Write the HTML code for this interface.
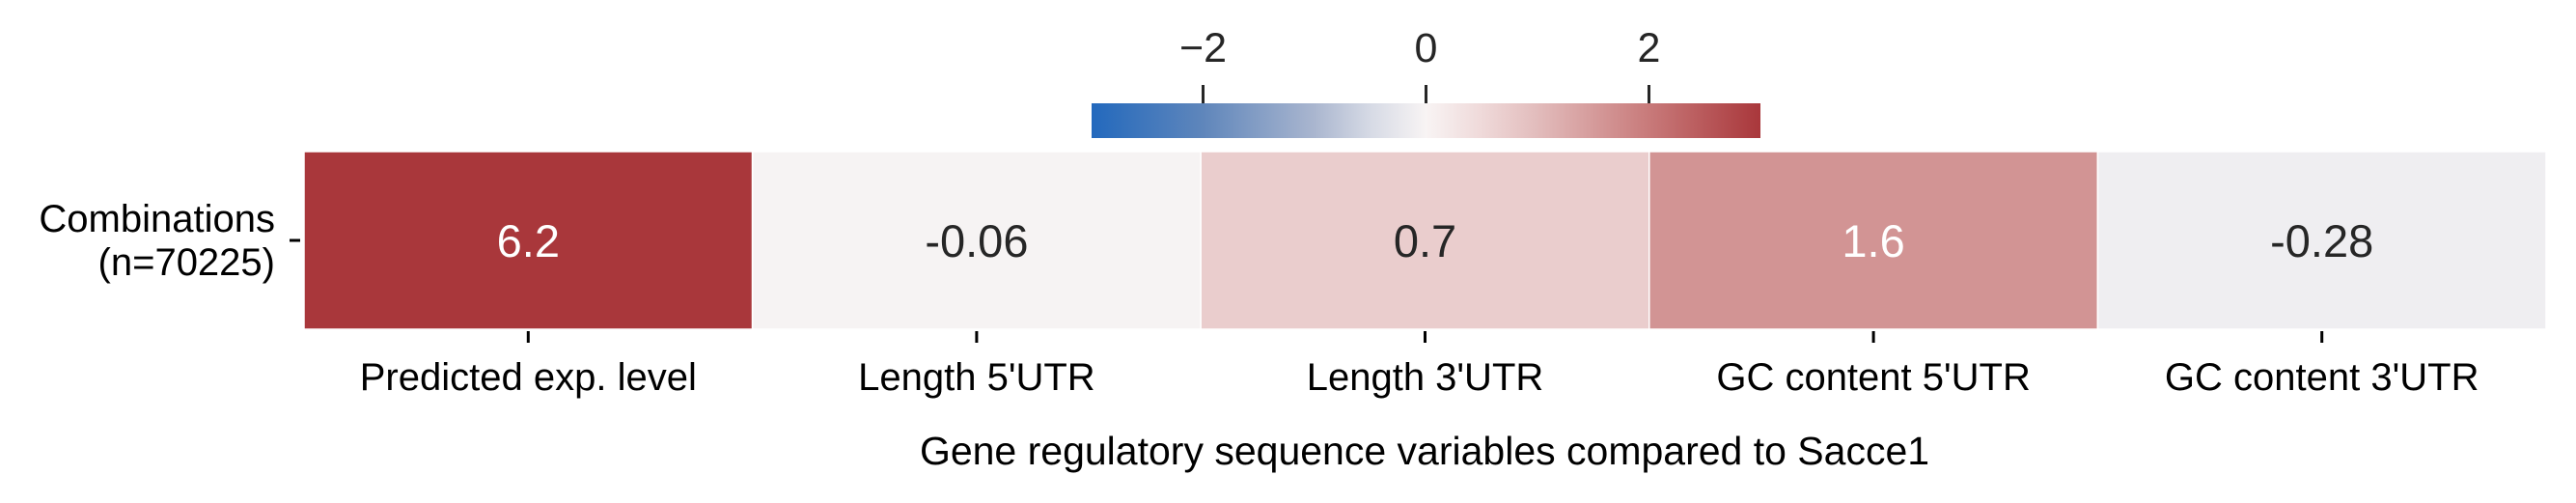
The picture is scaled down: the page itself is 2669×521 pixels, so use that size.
<!DOCTYPE html>
<html><head><meta charset="utf-8"><style>
html,body{margin:0;padding:0;background:#fff;}
svg{display:block;font-family:"Liberation Sans",Arial,sans-serif;}
</style></head><body>
<svg id="chart" width="2669" height="521" viewBox="0 0 2669 521" xmlns="http://www.w3.org/2000/svg">
<defs>
<linearGradient id="cbar" x1="0" x2="1" y1="0" y2="0">
<stop offset="0" stop-color="#2369bd"/>
<stop offset="0.1667" stop-color="#5f86bb"/>
<stop offset="0.3333" stop-color="#aab6cf"/>
<stop offset="0.4167" stop-color="#d6dae5"/>
<stop offset="0.5" stop-color="#f8f4f4"/>
<stop offset="0.5833" stop-color="#efd9d9"/>
<stop offset="0.6667" stop-color="#e2bcbc"/>
<stop offset="0.8333" stop-color="#c87a7a"/>
<stop offset="1" stop-color="#a9373b"/>
</linearGradient>
</defs>
<g id="cells"></g>
<g id="xaxis"></g>
<text x="1476" y="481" font-size="41" text-anchor="middle" fill="#000">Gene regulatory sequence variables compared to Sacce1</text>
<g>
<line x1="300" x2="311" y1="249" y2="249" stroke="#000" stroke-width="3"/>
<text font-size="40" text-anchor="end" fill="#000"><tspan x="285" y="240">Combinations</tspan><tspan x="285" y="285">(n=70225)</tspan></text>
</g>
<g>
<rect x="1131" y="107" width="693" height="36" fill="url(#cbar)"/>
<g id="cticks"></g>
</g>
</svg>
<script>
const categories = ["Predicted exp. level","Length 5'UTR","Length 3'UTR","GC content 5'UTR","GC content 3'UTR"];
const values = [6.2, -0.06, 0.7, 1.6, -0.28];
const labels = ["6.2","-0.06","0.7","1.6","-0.28"];
const cbTicks = [-2, 0, 2];
const cbTickLabels = ["\u22122","0","2"];

const vmin=-3, vmax=3;
const stops=[[-3,[35,105,189]],[-2,[95,134,187]],[-1,[170,182,207]],[-0.5,[232,233,239]],[0,[248,244,244]],[0.5,[239,217,217]],[1,[226,188,188]],[2,[200,122,122]],[3,[169,55,59]]];
function color(v){
  v=Math.max(vmin,Math.min(vmax,v));
  for(let i=0;i<stops.length-1;i++){
    const a=stops[i],b=stops[i+1];
    if(v>=a[0]&&v<=b[0]){const t=(v-a[0])/(b[0]-a[0]);
      const c=a[1].map((x,k)=>Math.round(x+(b[1][k]-x)*t));return `rgb(${c.join(',')})`;}
  }
  return 'rgb(169,55,59)';
}
function lum(v){const m=color(v).match(/\d+/g).map(Number);return 0.299*m[0]+0.587*m[1]+0.114*m[2];}
const x0=315, x1=2638, y0=157, y1=341;
const cw=(x1-x0)/categories.length;
const xScale=i=>x0+i*cw;
const cbX=v=>1131+(v-vmin)/(vmax-vmin)*693;
const NS="http://www.w3.org/2000/svg";
const cells=document.getElementById('cells'), xaxis=document.getElementById('xaxis'), ct=document.getElementById('cticks');
categories.forEach((c,i)=>{
  const r=document.createElementNS(NS,'rect');
  
  
  r.setAttribute('x',xScale(i));r.setAttribute('y',y0);r.setAttribute('width',cw);r.setAttribute('height',y1-y0);
  r.setAttribute('fill',color(values[i]));r.setAttribute('stroke','#fff');r.setAttribute('stroke-width','1.5');
  cells.appendChild(r);
  const t=document.createElementNS(NS,'text');
  
  
  t.setAttribute('x',xScale(i)+cw/2);t.setAttribute('y',(y0+y1)/2+17);t.setAttribute('font-size','47');t.setAttribute('text-anchor','middle');
  t.setAttribute('fill',lum(values[i])<200?'#fff':'#262626');t.textContent=labels[i];
  cells.appendChild(t);
  const l=document.createElementNS(NS,'line');
  
  
  const cx=xScale(i)+cw/2;
  l.setAttribute('x1',cx);l.setAttribute('x2',cx);l.setAttribute('y1',y1+2);l.setAttribute('y2',y1+14);l.setAttribute('stroke','#000');l.setAttribute('stroke-width','3');
  xaxis.appendChild(l);
  const xl=document.createElementNS(NS,'text');
  
  
  xl.setAttribute('x',cx);xl.setAttribute('y',404);xl.setAttribute('font-size','40');xl.setAttribute('text-anchor','middle');xl.setAttribute('fill','#000');xl.textContent=c;
  xaxis.appendChild(xl);
});
cbTicks.forEach((v,i)=>{
  const x=cbX(v);
  const l=document.createElementNS(NS,'line');
  
  
  l.setAttribute('x1',x);l.setAttribute('x2',x);l.setAttribute('y1',88);l.setAttribute('y2',107);l.setAttribute('stroke','#262626');l.setAttribute('stroke-width','3');
  ct.appendChild(l);
  const t=document.createElementNS(NS,'text');
  
  
  t.setAttribute('x',x);t.setAttribute('y',64);t.setAttribute('font-size','43');t.setAttribute('text-anchor','middle');t.setAttribute('fill','#262626');t.textContent=cbTickLabels[i];
  ct.appendChild(t);
});
</script>
</body></html>
